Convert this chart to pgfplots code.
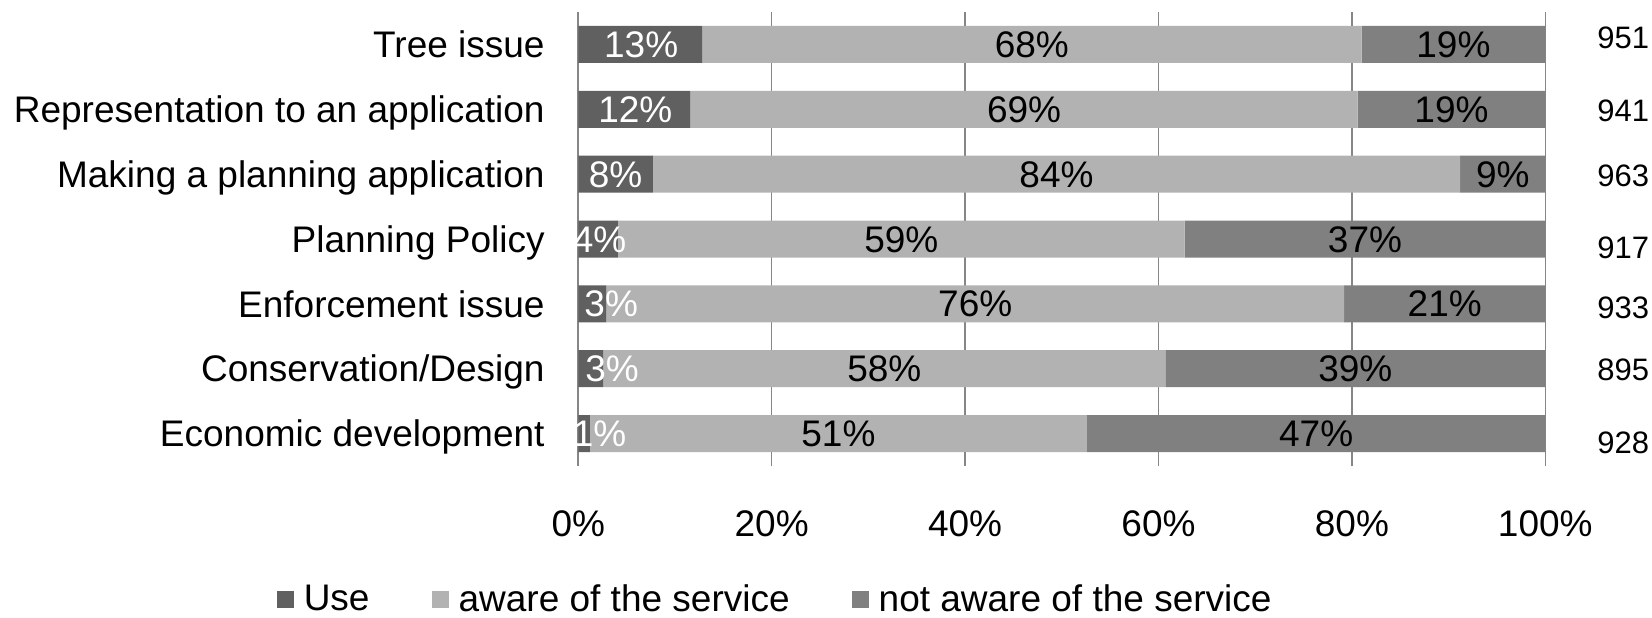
\documentclass[border=0pt]{standalone}
\usepackage{pgfplots}
\pgfplotsset{compat=1.18}
\usepackage{pgfplotstable}
\usepackage{fontspec}
\setmainfont{Liberation Sans}
\definecolor{cuse}{HTML}{606060}
\definecolor{caware}{HTML}{B2B2B2}
\definecolor{cnot}{HTML}{808080}
\definecolor{cgrid}{HTML}{868686}

\pgfplotstableread{
y use aware not ulx ul al nl n ny
6 12.8 68.2 19.0 6.5 13 68 19 951 6.116
5 11.6 69.0 19.4 5.9 12 69 19 941 4.977
4 7.7 83.5 8.8 3.85 8 84 9 963 3.982
3 4.1 58.6 37.3 2.2 4 59 37 917 2.876
2 2.9 76.3 20.8 3.4 3 76 21 933 1.951
1 2.6 58.1 39.3 3.5 3 58 39 895 0.995
0 1.2 51.4 47.4 2.2 1 51 47 928 -0.131
}\datatable

\newcommand\bigf{\fontsize{18.5}{21}\selectfont}
\newcommand\smallf{\fontsize{15.5}{18}\selectfont}

\pgfplotsset{common/.style={width=483.5pt, height=227pt, scale only axis,
  xmin=0, xmax=100, ymin=-0.5, ymax=6.5}}

\begin{document}
\begin{tikzpicture}
\path[use as bounding box] (-289.15pt,-75.5pt) rectangle (536.85pt,233pt);
\begin{axis}[common, xbar stacked, bar width=18.5pt,
  axis line style={draw=none}, tick style={draw=none},
  xmajorgrids, grid style={cgrid, line width=0.8pt},
  xtick={0,20,40,60,80,100}, xticklabels={0\%,20\%,40\%,60\%,80\%,100\%},
  ytick={0,1,2,3,4,5,6},
  yticklabels={Economic development,Conservation/Design,Enforcement issue,Planning Policy,Making a planning application,Representation to an application,Tree issue},
  xticklabel style={font=\bigf, anchor=center, yshift=-28.75pt},
  yticklabel style={font=\bigf, anchor=base east, inner sep=0pt, xshift=-16.65pt, yshift=-6.6pt},
  legend style={at={(0.2046,-0.294)}, anchor=center, draw=none, legend columns=3,
    font=\bigf, /tikz/every even column/.append style={column sep=29pt},
    /tikz/every odd column/.append style={column sep=3pt}},
  legend image code/.code={\fill[#1] (0pt,-4.25pt) rectangle (8.5pt,4.25pt);},
]
\addplot[fill=cuse, draw=none] table[x=use, y=y]{\datatable};
\addplot[fill=caware, draw=none] table[x=aware, y=y]{\datatable};
\addplot[fill=cnot, draw=none] table[x=not, y=y]{\datatable};
\legend{Use, aware of the service, not aware of the service}
\end{axis}
\begin{axis}[common, hide axis, clip=false]
\addplot[draw=none, mark=none, nodes near coords={\pgfplotspointmeta\%}, point meta=explicit symbolic,
  every node near coord/.append style={anchor=base, inner sep=0pt, yshift=-6.5pt, font=\bigf, text=white}]
  table[x=ulx, y=y, meta=ul]{\datatable};
\addplot[draw=none, mark=none, nodes near coords={\pgfplotspointmeta\%}, point meta=explicit symbolic,
  every node near coord/.append style={anchor=base, inner sep=0pt, yshift=-6.5pt, font=\bigf, text=black}]
  table[x expr=\thisrow{use}+0.5*\thisrow{aware}, y=y, meta=al]{\datatable};
\addplot[draw=none, mark=none, nodes near coords={\pgfplotspointmeta\%}, point meta=explicit symbolic,
  every node near coord/.append style={anchor=base, inner sep=0pt, yshift=-6.5pt, font=\bigf, text=black}]
  table[x expr=\thisrow{use}+\thisrow{aware}+0.5*\thisrow{not}, y=y, meta=nl]{\datatable};
\addplot[draw=none, mark=none, nodes near coords={\pgfplotspointmeta}, point meta=explicit symbolic,
  every node near coord/.append style={anchor=base west, inner sep=0pt, yshift=-5.55pt, font=\smallf, text=black}]
  table[x expr=105.35, y=ny, meta=n]{\datatable};
\end{axis}
\end{tikzpicture}
\end{document}
